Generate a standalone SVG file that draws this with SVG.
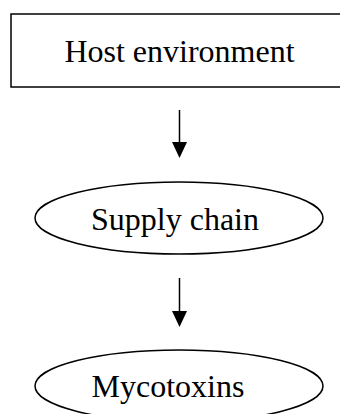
<svg xmlns="http://www.w3.org/2000/svg" width="340" height="414" viewBox="0 0 340 414">
<style>
.shape{fill:#fff;stroke:#000;stroke-width:1.5}
.lbl{font-family:"Liberation Serif","Times New Roman",serif;font-size:32px;fill:#000;text-anchor:middle}
.conn{stroke:#000;stroke-width:1.5;fill:none}
</style>
<defs>
<marker id="ah" markerWidth="16" markerHeight="15" refX="8" refY="7.5" orient="auto" markerUnits="userSpaceOnUse" viewBox="0 0 16 15">
<path d="M0,0 L16,7.5 L0,15 Z" fill="#000"/>
</marker>
</defs>
<rect width="340" height="414" fill="#fff"/>
<g id="host">
<rect class="shape" x="11" y="14" width="340" height="73"/>
<text class="lbl" x="179.5" y="62">Host environment</text>
</g>
<g id="supply">
<ellipse class="shape" cx="179" cy="218" rx="144" ry="36"/>
<text class="lbl" x="175" y="230">Supply chain</text>
</g>
<g id="myco">
<ellipse class="shape" cx="179" cy="386" rx="144" ry="36"/>
<text class="lbl" x="168" y="397">Mycotoxins</text>
</g>
<g id="connectors">
<line class="conn" x1="179.5" y1="110" x2="179.5" y2="150" marker-end="url(#ah)"/>
<line class="conn" x1="179.5" y1="278" x2="179.5" y2="319" marker-end="url(#ah)"/>
</g>
</svg>
